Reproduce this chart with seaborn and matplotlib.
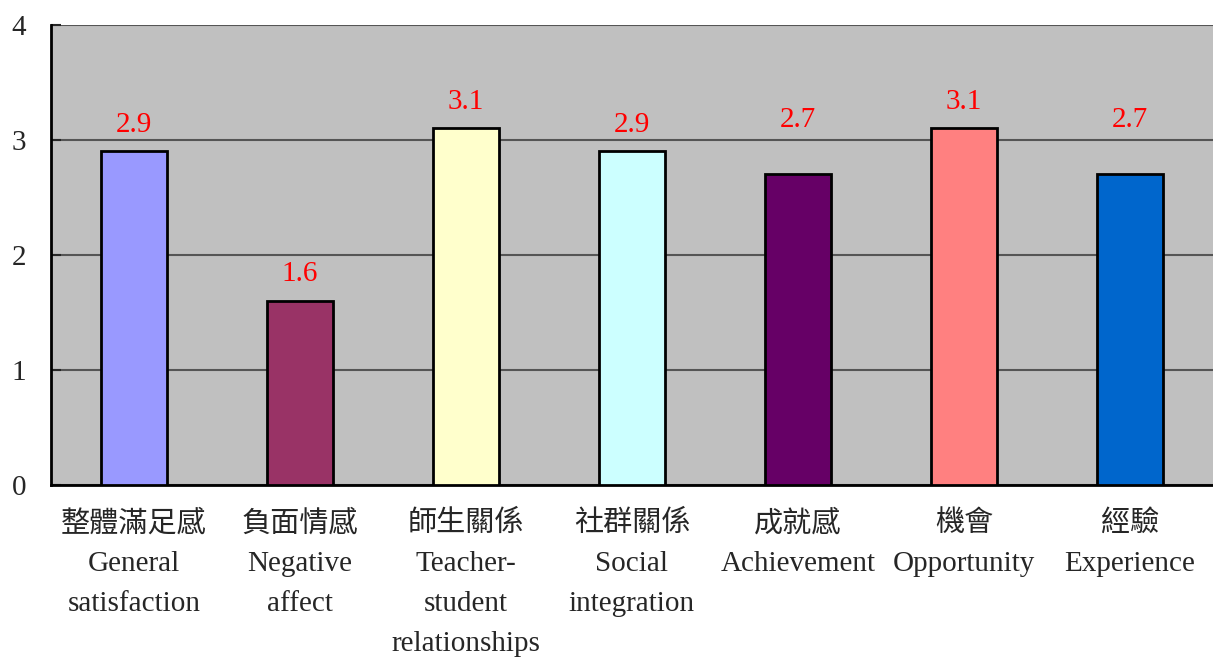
import pandas as pd
import seaborn as sns
import matplotlib.pyplot as plt
import matplotlib.ticker as mticker

# Data
labels_zh = ["整體滿足感", "負面情感", "師生關係", "社群關係", "成就感", "機會", "經驗"]
labels_en = ["General\nsatisfaction", "Negative\naffect", "Teacher-\nstudent\nrelationships",
             "Social\nintegration", "Achievement", "Opportunity", "Experience"]
scores = [2.9, 1.6, 3.1, 2.9, 2.7, 3.1, 2.7]
colors = ["#9999FF", "#993366", "#FFFFCC", "#CCFFFF", "#660066", "#FF8080", "#0066CC"]
# Excel nudged the 2.7 labels above the gridline
label_pad = [10, 10, 10, 10, 30, 10, 30]

cats = [z + "\n" + e for z, e in zip(labels_zh, labels_en)]
df = pd.DataFrame({"cat": cats, "score": scores})

sns.set_style("white")
plt.rcParams["font.family"] = ["Liberation Serif", "Noto Sans CJK TC"]

fig = plt.figure(figsize=(12.13, 6.57), dpi=100)
ax = fig.add_axes([0.042, 0.262, 0.958, 0.700])
ax.set_facecolor("#C0C0C0")

sns.barplot(data=df, x="cat", y="score", hue="cat", palette=colors, legend=False,
            width=0.4, saturation=1, edgecolor="black", linewidth=2, ax=ax, zorder=3)

for c, p in zip(ax.containers, label_pad):
    ax.bar_label(c, fmt="%.1f", color="red", fontsize=21, padding=p)

ax.set_ylim(0, 4)
ax.set_xlim(-0.5, 6.5)
ax.set_yticks([0, 1, 2, 3, 4])
ax.yaxis.grid(True, color="#555555", linewidth=1.5, zorder=1)
ax.set_axisbelow(True)

ax.xaxis.set_minor_locator(mticker.FixedLocator([i + 0.5 for i in range(6)]))
ax.tick_params(axis="x", which="major", length=0, pad=18, labelsize=21)
ax.tick_params(axis="x", which="minor", direction="in", length=8, width=1.2, color="#333333")
ax.tick_params(axis="y", direction="in", length=7, width=1.5, pad=18, labelsize=21, left=True)
for t in ax.get_xticklabels():
    t.set_linespacing(1.7)

ax.set_xlabel("")
ax.set_ylabel("")
ax.spines["right"].set_visible(False)
ax.spines["top"].set_visible(False)
ax.spines["left"].set_color("black")
ax.spines["left"].set_linewidth(2)
ax.spines["bottom"].set_color("black")
ax.spines["bottom"].set_linewidth(2)

plt.savefig("out.png", dpi=100)
